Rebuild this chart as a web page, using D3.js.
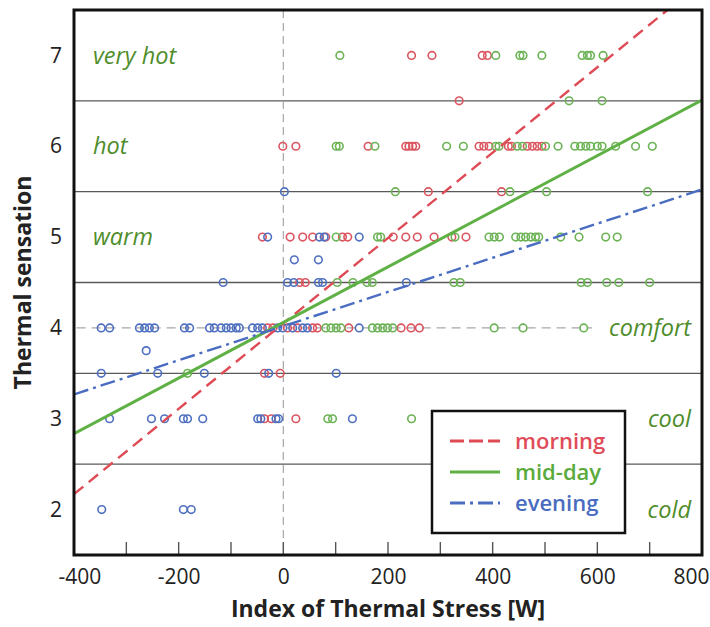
<!DOCTYPE html>
<html>
<head>
<meta charset="utf-8">
<script src="https://cdn.jsdelivr.net/npm/d3@7"></script>
<style>
  html, body { margin: 0; padding: 0; background: #fff; }
  svg { display: block; font-family: "Open Sans", "Noto Sans", sans-serif; }
</style>
</head>
<body>
<svg id="chart" width="710" height="627"></svg>
<script>
// Thermal sensation votes against the index of thermal stress, by time of day.
// Each pair is [index of thermal stress (W), thermal sensation vote].
const morningPoints = [
  [245, 7], [284, 7], [380, 7], [390, 7],
  [336, 6.5],
  [-1, 6], [24, 6], [162, 6], [234, 6], [240, 6], [247, 6], [253, 6], [374, 6], [383, 6],
  [393, 6], [430, 6], [436, 6], [466, 6], [476, 6], [485, 6], [494, 6],
  [277, 5.5], [417, 5.5],
  [-40, 5], [13, 5], [37, 5], [56, 5], [81, 5], [113, 5], [123, 5], [210, 5], [234, 5],
  [256, 5], [288, 5], [322, 5], [349, 5],
  [31, 4.5], [42, 4.5],
  [-30, 4], [-20, 4], [8, 4], [27, 4], [56, 4], [65, 4], [125, 4], [225, 4], [244, 4], [260, 4],
  [-36, 3.5], [-6, 3.5],
  [-36, 3], [-23, 3], [24, 3]
];
const middayPoints = [
  [108, 7], [406, 7], [452, 7], [458, 7], [494, 7], [571, 7], [581, 7], [587, 7], [611, 7],
  [546, 6.5], [609, 6.5],
  [101, 6], [107, 6], [175, 6], [312, 6], [344, 6], [406, 6], [412, 6], [447, 6], [457, 6],
  [501, 6], [525, 6], [557, 6], [568, 6], [578, 6], [587, 6], [600, 6], [609, 6], [635, 6],
  [673, 6], [705, 6],
  [214, 5.5], [433, 5.5], [503, 5.5], [696, 5.5],
  [101, 5], [180, 5], [186, 5], [328, 5], [393, 5], [403, 5], [413, 5], [444, 5], [454, 5],
  [463, 5], [473, 5], [482, 5], [488, 5], [530, 5], [565, 5], [616, 5], [638, 5],
  [103, 4.5], [133, 4.5], [160, 4.5], [170, 4.5], [326, 4.5], [338, 4.5], [569, 4.5],
  [581, 4.5], [618, 4.5], [641, 4.5], [700, 4.5],
  [81, 4], [91, 4], [101, 4], [110, 4], [170, 4], [180, 4], [190, 4], [199, 4], [209, 4],
  [403, 4], [458, 4], [574, 4],
  [-183, 3.5],
  [85, 3], [94, 3], [245, 3]
];
const eveningPoints = [
  [2, 5.5],
  [-30, 5], [69, 5], [78, 5], [145, 5],
  [21, 4.75], [67, 4.75],
  [-115, 4.5], [8, 4.5], [20, 4.5], [67, 4.5], [75, 4.5], [235, 4.5],
  [-348, 4], [-332, 4], [-275, 4], [-265, 4], [-256, 4], [-246, 4], [-189, 4], [-179, 4],
  [-141, 4], [-132, 4], [-119, 4], [-109, 4], [-100, 4], [-90, 4], [-84, 4], [-59, 4],
  [-49, 4], [-40, 4], [-11, 4], [-1, 4], [18, 4], [37, 4], [46, 4], [145, 4],
  [-262, 3.75],
  [-348, 3.5], [-240, 3.5], [-151, 3.5], [-28, 3.5], [101, 3.5],
  [-332, 3], [-252, 3], [-227, 3], [-191, 3], [-183, 3], [-154, 3], [-49, 3], [-43, 3],
  [-14, 3], [-9, 3], [132, 3],
  [-347, 2], [-191, 2], [-176, 2]
];

// Linear fits: [intercept, slope]
const morningFit = [4.05, 0.0047];
const middayFit = [4.06, 0.00306];
const eveningFit = [4.02, 0.00188];

const seriesNames = ["morning", "mid-day", "evening"];
const xTicks = [-400, -200, 0, 200, 400, 600, 800];
const xMinorTicks = [-300, -200, -100, 0, 100, 200, 300, 400, 500, 600, 700];
const yTicks = [2, 3, 4, 5, 6, 7];
const classBounds = [2.5, 3.5, 4.5, 5.5, 6.5];
const sensationLeft = [["very hot", 7], ["hot", 6], ["warm", 5]];
const sensationRight = [["comfort", 4], ["cool", 3], ["cold", 2]];

const colors = { "morning": "#de4b55", "mid-day": "#5fb045", "evening": "#4a6dc2" };
const pointColors = { "morning": "#db5560", "mid-day": "#6cb356", "evening": "#4f70c0" };
const textColors = { "morning": "#e04c59", "mid-day": "#5aab3c", "evening": "#4a6cc0" };
const dashes = { "morning": "12,7", "mid-day": null, "evening": "15,5,3,5" };
const widths = { "morning": 2.4, "mid-day": 3, "evening": 2.4 };

const svg = d3.select("#chart");
const m = { left: 74, right: 702, top: 10, bottom: 555 };

const x = d3.scaleLinear().domain([-400, 800]).range([m.left, m.right]);
const y = d3.scaleLinear().domain([1.5, 7.5]).range([m.bottom, m.top]);

svg.append("defs").append("clipPath").attr("id", "plotClip")
  .append("rect")
  .attr("x", m.left).attr("y", m.top)
  .attr("width", m.right - m.left).attr("height", m.bottom - m.top);

// Sensation class boundaries
svg.append("g").selectAll("line").data(classBounds).join("line")
  .attr("x1", m.left).attr("x2", m.right)
  .attr("y1", d => y(d)).attr("y2", d => y(d))
  .attr("stroke", "#5a5a5a").attr("stroke-width", 1.4);

// Neutral reference lines
svg.append("line")
  .attr("x1", x(0)).attr("x2", x(0))
  .attr("y1", m.top).attr("y2", m.bottom)
  .attr("stroke", "#a8a8a8").attr("stroke-width", 1.2)
  .attr("stroke-dasharray", "8,5");
svg.append("line")
  .attr("x1", x(-395)).attr("x2", x(590))
  .attr("y1", y(4)).attr("y2", y(4))
  .attr("stroke", "#a8a8a8").attr("stroke-width", 1.2)
  .attr("stroke-dasharray", "9,6");

// Observations
const pointSets = [["morning", morningPoints], ["mid-day", middayPoints], ["evening", eveningPoints]];
const pts = svg.append("g").attr("clip-path", "url(#plotClip)");
pointSets.forEach(([name, data]) => {
  pts.append("g").selectAll("circle").data(data).join("circle")
    .attr("cx", d => x(d[0])).attr("cy", d => y(d[1]))
    .attr("r", 3.8)
    .attr("fill", "none")
    .attr("stroke", pointColors[name])
    .attr("stroke-width", 1.6);
});

// Fitted lines
const fits = [["morning", morningFit], ["mid-day", middayFit], ["evening", eveningFit]];
const lineGen = d3.line().x(d => x(d[0])).y(d => y(d[1]));
const fitG = svg.append("g").attr("clip-path", "url(#plotClip)");
fits.forEach(([name, f]) => {
  const xs = x.domain();
  fitG.append("path")
    .datum(xs.map(v => [v, f[0] + f[1] * v]))
    .attr("d", lineGen)
    .attr("fill", "none")
    .attr("stroke", colors[name])
    .attr("stroke-width", widths[name])
    .attr("stroke-dasharray", dashes[name]);
});

// Sensation class labels
svg.append("g").selectAll("text").data(sensationLeft).join("text")
  .attr("x", 93).attr("y", d => y(d[1]))
  .attr("dy", "0.35em")
  .attr("font-size", 23.5).attr("font-style", "italic")
  .attr("fill", "#4f8d2c")
  .text(d => d[0]);
svg.append("g").selectAll("text").data(sensationRight).join("text")
  .attr("x", 691).attr("y", d => y(d[1]))
  .attr("dy", "0.35em")
  .attr("text-anchor", "end")
  .attr("font-size", 23.5).attr("font-style", "italic")
  .attr("fill", "#4f8d2c")
  .text(d => d[0]);

// Inner ticks along the bottom
svg.append("g").selectAll("line").data(xMinorTicks).join("line")
  .attr("x1", d => x(d)).attr("x2", d => x(d))
  .attr("y1", m.bottom).attr("y2", m.bottom - 13)
  .attr("stroke", "#555").attr("stroke-width", 1.4);

// Legend
const lg = svg.append("g");
lg.append("rect")
  .attr("x", 432).attr("y", 411).attr("width", 193).attr("height", 122)
  .attr("fill", "#fff").attr("stroke", "#111").attr("stroke-width", 2.5);
seriesNames.forEach((name, i) => {
  const cy = 441 + i * 31;
  lg.append("line")
    .attr("x1", 450).attr("x2", 500).attr("y1", cy).attr("y2", cy)
    .attr("stroke", colors[name]).attr("stroke-width", 3)
    .attr("stroke-dasharray", name === "morning" ? "14,5" : name === "evening" ? "15,5,3,5" : null);
  lg.append("text")
    .attr("x", 515).attr("y", cy).attr("dy", "0.35em")
    .attr("font-size", 22).attr("font-weight", 600)
    .attr("fill", textColors[name])
    .text(name);
});

// Plot frame
svg.append("rect")
  .attr("x", m.left).attr("y", m.top)
  .attr("width", m.right - m.left).attr("height", m.bottom - m.top)
  .attr("fill", "none").attr("stroke", "#111").attr("stroke-width", 3);

// Axes labels (plain hyphen for negatives)
const xAxis = d3.axisBottom(x).tickValues(xTicks).tickSize(0).tickPadding(14)
  .tickFormat(d => String(d));
const gx = svg.append("g").attr("transform", `translate(0,${m.bottom})`).call(xAxis);
gx.select(".domain").remove();
gx.selectAll("text").attr("font-size", 21).attr("fill", "#222")
  .attr("font-family", "'Open Sans', sans-serif");
// keep the end labels inside the page
gx.selectAll(".tick").filter(d => d === xTicks[0]).select("text")
  .attr("text-anchor", "start").attr("x", -16);
gx.selectAll(".tick").filter(d => d === xTicks[xTicks.length - 1]).select("text")
  .attr("text-anchor", "end").attr("x", 7);

const yAxis = d3.axisLeft(y).tickValues(yTicks).tickSize(0).tickPadding(12)
  .tickFormat(d => String(d));
const gy = svg.append("g").attr("transform", `translate(${m.left},0)`).call(yAxis);
gy.select(".domain").remove();
gy.selectAll("text").attr("font-size", 21).attr("fill", "#222")
  .attr("font-family", "'Open Sans', sans-serif");

svg.append("text")
  .attr("x", (m.left + m.right) / 2).attr("y", 617)
  .attr("text-anchor", "middle")
  .attr("font-size", 23).attr("font-weight", 700).attr("fill", "#222")
  .text("Index of Thermal Stress [W]");

svg.append("text")
  .attr("transform", `translate(31,${(m.top + m.bottom) / 2}) rotate(-90)`)
  .attr("text-anchor", "middle")
  .attr("font-size", 23).attr("font-weight", 700).attr("fill", "#222")
  .text("Thermal sensation");
</script>
</body>
</html>
